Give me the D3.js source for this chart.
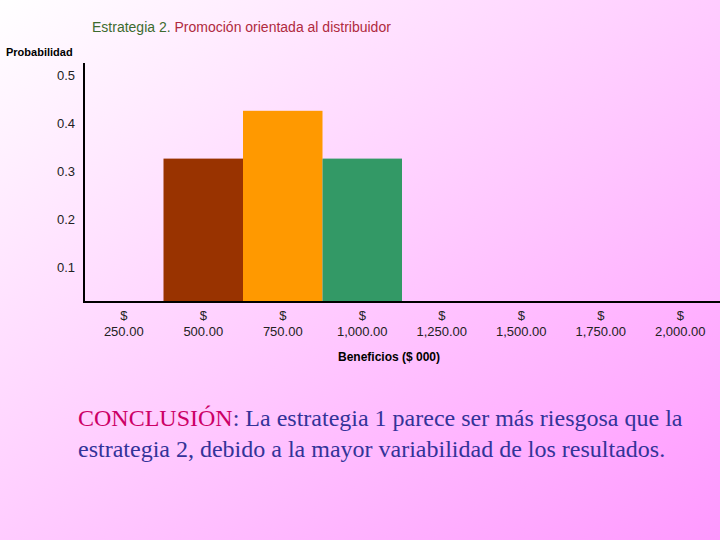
<!DOCTYPE html>
<html>
<head>
<meta charset="utf-8">
<script src="https://cdn.jsdelivr.net/npm/d3@7"></script>
<style>
  body { margin: 0; }
  svg text { font-family: "Liberation Sans", Arial, sans-serif; }
</style>
</head>
<body>
<div id="chart"></div>
<script>
// Data
var beneficios = [250, 500, 750, 1000, 1250, 1500, 1750, 2000];
var probabilidad = [0, 0.3, 0.4, 0.3, 0, 0, 0, 0];
var barColors = ["none", "#993300", "#ff9900", "#339966", "none", "none", "none", "none"];
var yTicks = [0.1, 0.2, 0.3, 0.4, 0.5];

var svgWidth = 720;
var svgHeight = 540;

var svg = d3.select("#chart")
  .append("svg")
  .attr("width", svgWidth)
  .attr("height", svgHeight);

// background gradient
var grad = svg.append("defs").append("linearGradient")
  .attr("id", "bg")
  .attr("x1", 0).attr("y1", 0)
  .attr("x2", 1).attr("y2", 1);
grad.append("stop").attr("offset", "0%").attr("stop-color", "#ffffff");
grad.append("stop").attr("offset", "50%").attr("stop-color", "#ffccff");
grad.append("stop").attr("offset", "100%").attr("stop-color", "#ff99ff");

svg.append("rect")
  .attr("width", svgWidth)
  .attr("height", svgHeight)
  .attr("fill", "url(#bg)");

// Title
var title = svg.append("text")
  .attr("x", 92)
  .attr("y", 32)
  .attr("font-size", "14px");
title.append("tspan").attr("fill", "#3d6b2f").text("Estrategia 2. ");
title.append("tspan").attr("fill", "#b02a40").text("Promoción orientada al distribuidor");

svg.append("text")
  .attr("x", 6)
  .attr("y", 56)
  .attr("font-size", "11px")
  .attr("font-weight", "bold")
  .text("Probabilidad");

// Scales
var xScale = d3.scaleBand()
  .domain(beneficios)
  .range([84, 720])
  .padding(0);

var yScale = d3.scaleLinear()
  .domain([0, 0.5])
  .range([302, 63]);

// Bars
svg.selectAll(".bar")
  .data(beneficios)
  .enter()
  .append("rect")
  .attr("class", "bar")
  .attr("x", d => xScale(d))
  .attr("width", xScale.bandwidth())
  .attr("y", (d, i) => yScale(probabilidad[i]))
  .attr("height", (d, i) => yScale(0) - yScale(probabilidad[i]))
  .attr("fill", (d, i) => barColors[i]);

// Y axis
var leftAxis = d3.axisLeft(yScale)
  .tickValues(yTicks)
  .tickSize(0)
  .tickPadding(9)
  .tickFormat(d3.format(".1f"));

var yAxis = svg.append("g")
  .attr("transform", "translate(84, 0)")
  .call(leftAxis);
yAxis.select(".domain").remove();
yAxis.selectAll("text")
  .attr("font-size", "13px")
  .attr("fill", "#222")
  .attr("dy", "1.3em");

svg.append("line")
  .attr("x1", 84).attr("x2", 84)
  .attr("y1", 63).attr("y2", 303)
  .attr("stroke", "#000")
  .attr("stroke-width", 2);

// X axis - two line labels ("$" over the amount)
var bottomAxis = d3.axisBottom(xScale).tickSize(0);
var xAxis = svg.append("g")
  .attr("transform", "translate(0, 302)")
  .call(bottomAxis);
xAxis.select(".domain").remove();
xAxis.selectAll("text")
  .attr("font-size", "13px")
  .attr("fill", "#222")
  .attr("dy", null)
  .attr("y", null)
  .text(null)
  .each(function(d) {
    var t = d3.select(this);
    t.append("tspan").attr("x", 0).attr("y", 18).text("$");
    t.append("tspan").attr("x", 0).attr("y", 34).text(d3.format(",.2f")(d));
  });

svg.append("line")
  .attr("x1", 83).attr("x2", 720)
  .attr("y1", 302).attr("y2", 302)
  .attr("stroke", "#000")
  .attr("stroke-width", 2);

svg.append("text")
  .attr("x", 389)
  .attr("y", 361)
  .attr("text-anchor", "middle")
  .attr("font-size", "12px")
  .attr("font-weight", "bold")
  .text("Beneficios ($ 000)");

// Conclusion
var concl = svg.append("text")
  .attr("font-size", "24px")
  .style("font-family", "'Liberation Serif', 'Times New Roman', serif");
var line1 = concl.append("tspan").attr("x", 78).attr("y", 426);
line1.append("tspan").attr("fill", "#cc0066").text("CONCLUSIÓN");
line1.append("tspan").attr("fill", "#333399").text(": La estrategia 1 parece ser más riesgosa que la");
concl.append("tspan").attr("x", 78).attr("y", 457)
  .attr("fill", "#333399")
  .text("estrategia 2, debido a la mayor variabilidad de los resultados.");
</script>
</body>
</html>
